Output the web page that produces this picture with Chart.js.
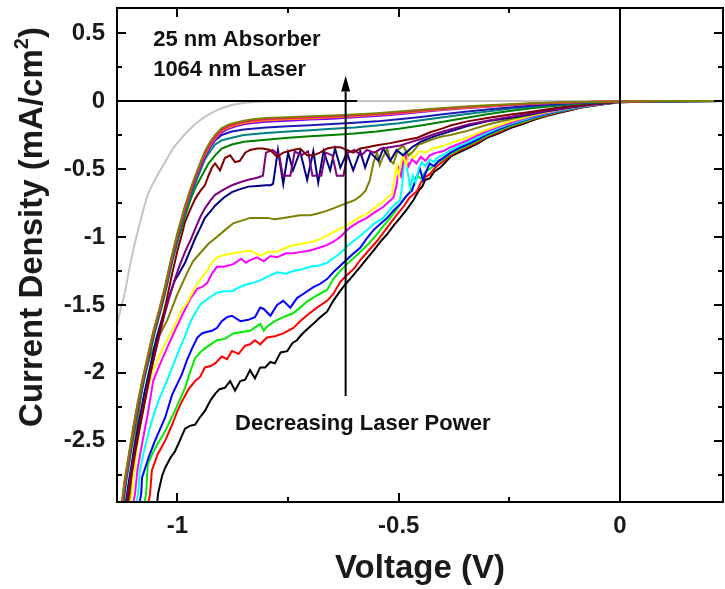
<!DOCTYPE html>
<html>
<head>
<meta charset="utf-8">
<title>25 nm Absorber - J-V curves</title>
<script src="https://cdn.jsdelivr.net/npm/chart.js@4.4.1/dist/chart.umd.min.js"></script>
<style>
  html, body { margin: 0; padding: 0; background: #fff; }
  #wrap { width: 725px; height: 589px; }
</style>
</head>
<body>
<div id="wrap"><canvas id="jv" width="725" height="589"></canvas></div>
<script>
// Axis ranges and tick labels
const voltRange = [-1.1367, 0.2328];
const currRange = [-2.95, 0.684];
const voltTicks = [-1, -0.5, 0];
const currTicks = [0.5, 0, -0.5, -1, -1.5, -2, -2.5];

// Curves: [voltage (V), current density (mA/cm2)]
// lowest curve = highest laser power
const blackCurve = [[-1.046,-2.96],[-1.044,-2.89],[-1.035,-2.76],[-1.028,-2.70],[-1.015,-2.62],[-1.006,-2.58],[-0.995,-2.50],[-0.983,-2.41],[-0.972,-2.39],[-0.96,-2.38],[-0.95,-2.33],[-0.938,-2.28],[-0.925,-2.20],[-0.915,-2.155],[-0.905,-2.12],[-0.893,-2.11],[-0.881,-2.06],[-0.87,-2.13],[-0.858,-2.06],[-0.847,-2.05],[-0.836,-1.98],[-0.825,-2.04],[-0.813,-1.96],[-0.802,-1.96],[-0.79,-1.92],[-0.78,-1.93],[-0.767,-1.85],[-0.752,-1.84],[-0.74,-1.78],[-0.73,-1.76],[-0.72,-1.72],[-0.707,-1.68],[-0.69,-1.63],[-0.677,-1.59],[-0.662,-1.55],[-0.648,-1.47],[-0.635,-1.41],[-0.621,-1.35],[-0.605,-1.29],[-0.587,-1.22],[-0.572,-1.16],[-0.557,-1.10],[-0.54,-1.03],[-0.526,-0.98],[-0.51,-0.91],[-0.497,-0.86],[-0.48,-0.79],[-0.467,-0.73],[-0.455,-0.66],[-0.447,-0.63],[-0.44,-0.58],[-0.43,-0.57],[-0.42,-0.52],[-0.406,-0.49],[-0.383,-0.41],[-0.365,-0.38],[-0.345,-0.35],[-0.32,-0.31],[-0.30,-0.27],[-0.275,-0.24],[-0.248,-0.20],[-0.22,-0.17],[-0.196,-0.14],[-0.17,-0.115],[-0.142,-0.09],[-0.115,-0.07],[-0.09,-0.05],[-0.06,-0.035],[-0.03,-0.02],[0,-0.01],[0.05,-0.005],[0.1,-0.002],[0.233,0]];
const redCurve = [[-1.066,-2.96],[-1.062,-2.89],[-1.058,-2.72],[-1.045,-2.60],[-1.028,-2.50],[-1.012,-2.38],[-1.0,-2.28],[-0.99,-2.21],[-0.975,-2.12],[-0.96,-2.06],[-0.949,-2.03],[-0.938,-1.96],[-0.925,-1.95],[-0.915,-1.93],[-0.9,-1.88],[-0.888,-1.90],[-0.877,-1.84],[-0.862,-1.86],[-0.847,-1.80],[-0.836,-1.79],[-0.825,-1.76],[-0.813,-1.79],[-0.798,-1.74],[-0.78,-1.73],[-0.761,-1.71],[-0.738,-1.67],[-0.723,-1.62],[-0.705,-1.57],[-0.685,-1.52],[-0.662,-1.47],[-0.648,-1.42],[-0.632,-1.33],[-0.617,-1.28],[-0.6,-1.23],[-0.587,-1.17],[-0.568,-1.10],[-0.549,-1.03],[-0.535,-0.97],[-0.519,-0.90],[-0.505,-0.84],[-0.49,-0.78],[-0.475,-0.71],[-0.458,-0.66],[-0.45,-0.60],[-0.44,-0.56],[-0.43,-0.54],[-0.42,-0.50],[-0.41,-0.47],[-0.383,-0.40],[-0.36,-0.36],[-0.345,-0.34],[-0.32,-0.30],[-0.30,-0.26],[-0.275,-0.23],[-0.248,-0.19],[-0.22,-0.16],[-0.196,-0.135],[-0.17,-0.11],[-0.142,-0.085],[-0.115,-0.065],[-0.09,-0.048],[-0.06,-0.033],[-0.03,-0.02],[0,-0.01],[0.05,-0.005],[0.1,-0.002],[0.233,0]];
const greenCurve = [[-1.075,-2.96],[-1.071,-2.89],[-1.067,-2.67],[-1.05,-2.55],[-1.028,-2.43],[-1.006,-2.28],[-0.995,-2.20],[-0.983,-2.11],[-0.97,-1.98],[-0.96,-1.89],[-0.949,-1.85],[-0.938,-1.82],[-0.925,-1.79],[-0.911,-1.76],[-0.893,-1.75],[-0.874,-1.71],[-0.855,-1.70],[-0.836,-1.69],[-0.822,-1.66],[-0.813,-1.64],[-0.805,-1.69],[-0.798,-1.66],[-0.78,-1.62],[-0.761,-1.59],[-0.738,-1.56],[-0.723,-1.52],[-0.705,-1.47],[-0.685,-1.43],[-0.662,-1.39],[-0.648,-1.31],[-0.632,-1.25],[-0.617,-1.20],[-0.6,-1.15],[-0.587,-1.11],[-0.568,-1.05],[-0.549,-0.98],[-0.535,-0.92],[-0.519,-0.86],[-0.505,-0.80],[-0.49,-0.73],[-0.478,-0.68],[-0.467,-0.63],[-0.458,-0.55],[-0.45,-0.57],[-0.44,-0.52],[-0.43,-0.50],[-0.415,-0.46],[-0.40,-0.43],[-0.383,-0.39],[-0.36,-0.35],[-0.345,-0.33],[-0.32,-0.29],[-0.30,-0.255],[-0.275,-0.22],[-0.248,-0.185],[-0.22,-0.155],[-0.196,-0.13],[-0.17,-0.105],[-0.142,-0.082],[-0.115,-0.063],[-0.09,-0.046],[-0.06,-0.032],[-0.03,-0.019],[0,-0.009],[0.05,-0.004],[0.1,-0.002],[0.233,0]];
const blueCurve = [[-1.086,-2.96],[-1.082,-2.89],[-1.08,-2.77],[-1.065,-2.62],[-1.051,-2.50],[-1.04,-2.42],[-1.028,-2.33],[-1.012,-2.16],[-0.99,-2.01],[-0.979,-1.91],[-0.967,-1.82],[-0.955,-1.74],[-0.945,-1.71],[-0.935,-1.70],[-0.922,-1.69],[-0.911,-1.67],[-0.9,-1.62],[-0.888,-1.59],[-0.877,-1.58],[-0.858,-1.62],[-0.84,-1.61],[-0.825,-1.59],[-0.813,-1.52],[-0.805,-1.53],[-0.79,-1.58],[-0.775,-1.50],[-0.761,-1.47],[-0.745,-1.52],[-0.73,-1.45],[-0.716,-1.42],[-0.693,-1.37],[-0.68,-1.35],[-0.662,-1.31],[-0.645,-1.25],[-0.625,-1.19],[-0.605,-1.13],[-0.587,-1.08],[-0.572,-1.01],[-0.557,-0.95],[-0.54,-0.90],[-0.526,-0.86],[-0.51,-0.80],[-0.497,-0.76],[-0.483,-0.70],[-0.47,-0.66],[-0.46,-0.56],[-0.452,-0.50],[-0.445,-0.58],[-0.438,-0.52],[-0.43,-0.46],[-0.42,-0.48],[-0.41,-0.44],[-0.40,-0.42],[-0.383,-0.38],[-0.36,-0.34],[-0.345,-0.32],[-0.32,-0.28],[-0.30,-0.245],[-0.275,-0.21],[-0.248,-0.175],[-0.22,-0.145],[-0.196,-0.122],[-0.17,-0.1],[-0.142,-0.078],[-0.115,-0.06],[-0.09,-0.044],[-0.06,-0.03],[-0.03,-0.018],[0,-0.008],[0.05,-0.004],[0.1,-0.002],[0.233,0]];
const cyanCurve = [[-1.093,-2.96],[-1.089,-2.89],[-1.085,-2.72],[-1.074,-2.55],[-1.062,-2.40],[-1.051,-2.28],[-1.04,-2.18],[-1.024,-2.06],[-1.006,-1.91],[-0.995,-1.82],[-0.983,-1.73],[-0.97,-1.62],[-0.96,-1.56],[-0.949,-1.50],[-0.938,-1.47],[-0.925,-1.44],[-0.911,-1.41],[-0.895,-1.40],[-0.877,-1.40],[-0.86,-1.37],[-0.845,-1.35],[-0.83,-1.34],[-0.813,-1.32],[-0.795,-1.29],[-0.775,-1.26],[-0.755,-1.27],[-0.738,-1.25],[-0.72,-1.24],[-0.70,-1.22],[-0.68,-1.21],[-0.662,-1.19],[-0.645,-1.15],[-0.632,-1.12],[-0.62,-1.08],[-0.61,-1.05],[-0.59,-1.00],[-0.572,-0.95],[-0.555,-0.90],[-0.535,-0.86],[-0.515,-0.78],[-0.497,-0.73],[-0.492,-0.62],[-0.487,-0.40],[-0.48,-0.52],[-0.474,-0.64],[-0.468,-0.55],[-0.462,-0.60],[-0.455,-0.50],[-0.448,-0.45],[-0.44,-0.48],[-0.43,-0.43],[-0.42,-0.45],[-0.41,-0.41],[-0.40,-0.40],[-0.383,-0.36],[-0.36,-0.325],[-0.345,-0.305],[-0.32,-0.265],[-0.30,-0.235],[-0.275,-0.20],[-0.248,-0.168],[-0.22,-0.14],[-0.196,-0.117],[-0.17,-0.095],[-0.142,-0.074],[-0.115,-0.057],[-0.09,-0.042],[-0.06,-0.029],[-0.03,-0.017],[0,-0.008],[0.05,-0.004],[0.1,-0.002],[0.233,0]];
const magentaCurve = [[-1.100,-2.96],[-1.096,-2.89],[-1.09,-2.70],[-1.08,-2.52],[-1.067,-2.30],[-1.055,-2.06],[-1.04,-1.94],[-1.024,-1.82],[-1.006,-1.69],[-0.987,-1.56],[-0.97,-1.45],[-0.955,-1.38],[-0.945,-1.37],[-0.933,-1.34],[-0.922,-1.27],[-0.911,-1.22],[-0.895,-1.22],[-0.874,-1.20],[-0.856,-1.16],[-0.845,-1.19],[-0.836,-1.17],[-0.82,-1.15],[-0.805,-1.18],[-0.79,-1.14],[-0.775,-1.15],[-0.755,-1.12],[-0.738,-1.12],[-0.72,-1.11],[-0.70,-1.10],[-0.68,-1.08],[-0.662,-1.06],[-0.645,-1.03],[-0.632,-1.00],[-0.62,-0.96],[-0.61,-0.93],[-0.59,-0.89],[-0.572,-0.86],[-0.555,-0.82],[-0.535,-0.78],[-0.512,-0.71],[-0.505,-0.62],[-0.50,-0.50],[-0.495,-0.55],[-0.49,-0.45],[-0.484,-0.40],[-0.478,-0.48],[-0.47,-0.43],[-0.46,-0.46],[-0.45,-0.41],[-0.44,-0.44],[-0.43,-0.40],[-0.415,-0.38],[-0.40,-0.37],[-0.383,-0.34],[-0.36,-0.31],[-0.345,-0.29],[-0.32,-0.25],[-0.30,-0.222],[-0.275,-0.19],[-0.248,-0.16],[-0.22,-0.132],[-0.196,-0.11],[-0.17,-0.09],[-0.142,-0.07],[-0.115,-0.054],[-0.09,-0.04],[-0.06,-0.027],[-0.03,-0.016],[0,-0.007],[0.05,-0.003],[0.1,-0.001],[0.233,0]];
const yellowCurve = [[-1.107,-2.96],[-1.103,-2.89],[-1.095,-2.65],[-1.085,-2.40],[-1.07,-2.15],[-1.055,-1.98],[-1.04,-1.87],[-1.024,-1.76],[-1.006,-1.65],[-0.99,-1.53],[-0.979,-1.49],[-0.965,-1.40],[-0.95,-1.32],[-0.933,-1.25],[-0.922,-1.19],[-0.911,-1.15],[-0.89,-1.13],[-0.874,-1.12],[-0.855,-1.11],[-0.836,-1.10],[-0.813,-1.14],[-0.795,-1.11],[-0.775,-1.11],[-0.755,-1.08],[-0.738,-1.06],[-0.72,-1.05],[-0.70,-1.04],[-0.68,-1.02],[-0.662,-0.99],[-0.645,-0.96],[-0.632,-0.94],[-0.61,-0.90],[-0.59,-0.86],[-0.572,-0.83],[-0.555,-0.79],[-0.535,-0.74],[-0.525,-0.71],[-0.515,-0.68],[-0.51,-0.58],[-0.505,-0.48],[-0.50,-0.55],[-0.495,-0.45],[-0.49,-0.40],[-0.483,-0.47],[-0.475,-0.38],[-0.465,-0.42],[-0.455,-0.37],[-0.44,-0.38],[-0.425,-0.35],[-0.41,-0.34],[-0.40,-0.33],[-0.383,-0.31],[-0.36,-0.285],[-0.345,-0.27],[-0.32,-0.235],[-0.30,-0.21],[-0.275,-0.18],[-0.248,-0.15],[-0.22,-0.125],[-0.196,-0.104],[-0.17,-0.085],[-0.142,-0.066],[-0.115,-0.051],[-0.09,-0.038],[-0.06,-0.026],[-0.03,-0.015],[0,-0.007],[0.05,-0.003],[0.1,-0.001],[0.233,0]];
const darkYellowCurve = [[-1.111,-2.96],[-1.107,-2.89],[-1.1,-2.60],[-1.09,-2.35],[-1.078,-2.06],[-1.062,-1.88],[-1.045,-1.75],[-1.024,-1.62],[-1.0,-1.42],[-0.979,-1.27],[-0.965,-1.18],[-0.949,-1.12],[-0.93,-1.05],[-0.911,-1.00],[-0.893,-0.95],[-0.874,-0.90],[-0.855,-0.88],[-0.836,-0.86],[-0.815,-0.86],[-0.798,-0.86],[-0.78,-0.87],[-0.761,-0.86],[-0.74,-0.85],[-0.723,-0.84],[-0.70,-0.84],[-0.685,-0.83],[-0.665,-0.81],[-0.648,-0.79],[-0.632,-0.77],[-0.617,-0.75],[-0.60,-0.73],[-0.587,-0.70],[-0.575,-0.66],[-0.565,-0.58],[-0.557,-0.45],[-0.549,-0.38],[-0.543,-0.47],[-0.537,-0.42],[-0.526,-0.35],[-0.519,-0.44],[-0.512,-0.46],[-0.502,-0.36],[-0.49,-0.33],[-0.478,-0.40],[-0.467,-0.37],[-0.455,-0.32],[-0.445,-0.31],[-0.43,-0.29],[-0.413,-0.27],[-0.40,-0.26],[-0.383,-0.25],[-0.345,-0.22],[-0.30,-0.175],[-0.275,-0.155],[-0.248,-0.135],[-0.22,-0.115],[-0.196,-0.098],[-0.17,-0.08],[-0.142,-0.063],[-0.115,-0.048],[-0.09,-0.035],[-0.06,-0.024],[-0.03,-0.014],[0,-0.006],[0.05,-0.003],[0.1,-0.001],[0.233,0]];
const navyCurve = [[-1.117,-2.96],[-1.11,-2.80],[-1.10,-2.60],[-1.088,-2.38],[-1.075,-2.15],[-1.062,-1.96],[-1.048,-1.75],[-1.033,-1.58],[-1.02,-1.45],[-1.006,-1.32],[-0.995,-1.26],[-0.983,-1.19],[-0.97,-1.09],[-0.96,-1.01],[-0.948,-0.93],[-0.938,-0.86],[-0.925,-0.81],[-0.915,-0.77],[-0.895,-0.71],[-0.877,-0.67],[-0.86,-0.65],[-0.84,-0.63],[-0.82,-0.625],[-0.80,-0.62],[-0.79,-0.62],[-0.784,-0.61],[-0.773,-0.36],[-0.761,-0.61],[-0.75,-0.38],[-0.739,-0.51],[-0.723,-0.37],[-0.707,-0.58],[-0.693,-0.37],[-0.682,-0.60],[-0.67,-0.37],[-0.655,-0.51],[-0.644,-0.35],[-0.632,-0.49],[-0.617,-0.38],[-0.603,-0.51],[-0.587,-0.37],[-0.576,-0.49],[-0.564,-0.38],[-0.546,-0.44],[-0.535,-0.35],[-0.519,-0.44],[-0.505,-0.36],[-0.49,-0.40],[-0.47,-0.34],[-0.45,-0.30],[-0.42,-0.26],[-0.40,-0.24],[-0.345,-0.185],[-0.30,-0.15],[-0.27,-0.135],[-0.22,-0.108],[-0.17,-0.078],[-0.115,-0.05],[-0.06,-0.025],[0,-0.006],[0.1,-0.002],[0.233,0]];
const purpleCurve = [[-1.115,-2.96],[-1.108,-2.80],[-1.098,-2.60],[-1.085,-2.38],[-1.072,-2.17],[-1.06,-1.98],[-1.045,-1.78],[-1.03,-1.58],[-1.018,-1.44],[-1.006,-1.31],[-0.995,-1.21],[-0.983,-1.11],[-0.97,-1.02],[-0.96,-0.94],[-0.948,-0.85],[-0.938,-0.79],[-0.925,-0.73],[-0.915,-0.69],[-0.895,-0.65],[-0.877,-0.62],[-0.86,-0.60],[-0.84,-0.58],[-0.82,-0.565],[-0.807,-0.55],[-0.80,-0.38],[-0.785,-0.36],[-0.77,-0.40],[-0.762,-0.55],[-0.745,-0.55],[-0.735,-0.37],[-0.72,-0.40],[-0.705,-0.37],[-0.695,-0.55],[-0.675,-0.55],[-0.665,-0.38],[-0.65,-0.40],[-0.64,-0.55],[-0.625,-0.55],[-0.615,-0.38],[-0.60,-0.36],[-0.585,-0.40],[-0.572,-0.36],[-0.555,-0.38],[-0.54,-0.35],[-0.52,-0.34],[-0.50,-0.33],[-0.48,-0.31],[-0.45,-0.28],[-0.42,-0.245],[-0.40,-0.225],[-0.345,-0.175],[-0.30,-0.145],[-0.27,-0.128],[-0.22,-0.102],[-0.17,-0.074],[-0.115,-0.047],[-0.06,-0.024],[0,-0.006],[0.1,-0.002],[0.233,0]];
const wineCurve = [[-1.113,-2.96],[-1.105,-2.78],[-1.095,-2.58],[-1.085,-2.40],[-1.073,-2.20],[-1.062,-2.02],[-1.05,-1.84],[-1.038,-1.66],[-1.025,-1.47],[-1.012,-1.27],[-1.0,-1.10],[-0.99,-0.98],[-0.983,-0.89],[-0.97,-0.79],[-0.96,-0.72],[-0.948,-0.66],[-0.938,-0.62],[-0.93,-0.55],[-0.922,-0.49],[-0.915,-0.46],[-0.904,-0.51],[-0.893,-0.42],[-0.881,-0.40],[-0.87,-0.45],[-0.859,-0.44],[-0.847,-0.38],[-0.836,-0.36],[-0.82,-0.35],[-0.807,-0.35],[-0.791,-0.36],[-0.775,-0.41],[-0.761,-0.38],[-0.739,-0.36],[-0.723,-0.35],[-0.707,-0.40],[-0.693,-0.40],[-0.678,-0.38],[-0.662,-0.35],[-0.648,-0.34],[-0.632,-0.34],[-0.617,-0.36],[-0.603,-0.38],[-0.587,-0.35],[-0.571,-0.34],[-0.549,-0.325],[-0.519,-0.31],[-0.49,-0.29],[-0.458,-0.27],[-0.429,-0.23],[-0.399,-0.2],[-0.383,-0.18],[-0.345,-0.15],[-0.30,-0.125],[-0.27,-0.11],[-0.248,-0.1],[-0.22,-0.088],[-0.196,-0.077],[-0.17,-0.064],[-0.142,-0.05],[-0.115,-0.039],[-0.09,-0.029],[-0.06,-0.019],[-0.03,-0.011],[0,-0.005],[0.1,-0.002],[0.233,0]];
const greenDarkCurve = [[-1.122,-2.96],[-1.116,-2.80],[-1.106,-2.60],[-1.096,-2.40],[-1.086,-2.22],[-1.074,-2.03],[-1.063,-1.87],[-1.051,-1.70],[-1.036,-1.52],[-1.024,-1.36],[-1.011,-1.17],[-0.996,-0.99],[-0.98,-0.82],[-0.97,-0.72],[-0.96,-0.64],[-0.945,-0.55],[-0.93,-0.46],[-0.915,-0.40],[-0.9,-0.35],[-0.877,-0.32],[-0.85,-0.30],[-0.80,-0.285],[-0.75,-0.27],[-0.70,-0.26],[-0.65,-0.25],[-0.60,-0.24],[-0.55,-0.225],[-0.50,-0.205],[-0.45,-0.18],[-0.40,-0.153],[-0.35,-0.125],[-0.30,-0.098],[-0.25,-0.074],[-0.20,-0.054],[-0.15,-0.037],[-0.10,-0.023],[-0.05,-0.012],[0,-0.006],[0.1,-0.002],[0.233,0]];
const tealCurve = [[-1.123,-2.96],[-1.117,-2.80],[-1.107,-2.60],[-1.097,-2.40],[-1.087,-2.22],[-1.075,-2.03],[-1.064,-1.87],[-1.052,-1.70],[-1.037,-1.52],[-1.025,-1.36],[-1.012,-1.17],[-0.997,-0.98],[-0.981,-0.80],[-0.968,-0.68],[-0.958,-0.59],[-0.948,-0.51],[-0.938,-0.43],[-0.926,-0.37],[-0.915,-0.32],[-0.9,-0.29],[-0.877,-0.27],[-0.85,-0.25],[-0.80,-0.235],[-0.75,-0.225],[-0.70,-0.215],[-0.65,-0.205],[-0.60,-0.195],[-0.55,-0.18],[-0.50,-0.163],[-0.45,-0.142],[-0.40,-0.12],[-0.35,-0.098],[-0.30,-0.077],[-0.25,-0.058],[-0.20,-0.042],[-0.15,-0.029],[-0.10,-0.018],[-0.05,-0.01],[0,-0.005],[0.1,-0.002],[0.233,0]];
const royalCurve = [[-1.124,-2.96],[-1.118,-2.80],[-1.108,-2.60],[-1.098,-2.40],[-1.088,-2.22],[-1.076,-2.03],[-1.065,-1.87],[-1.053,-1.70],[-1.038,-1.52],[-1.026,-1.36],[-1.013,-1.17],[-0.998,-0.97],[-0.982,-0.78],[-0.969,-0.66],[-0.96,-0.58],[-0.948,-0.48],[-0.938,-0.41],[-0.926,-0.34],[-0.915,-0.29],[-0.9,-0.25],[-0.877,-0.225],[-0.85,-0.21],[-0.80,-0.195],[-0.75,-0.185],[-0.70,-0.178],[-0.65,-0.17],[-0.60,-0.16],[-0.55,-0.15],[-0.50,-0.135],[-0.45,-0.117],[-0.40,-0.098],[-0.35,-0.08],[-0.30,-0.063],[-0.25,-0.048],[-0.20,-0.035],[-0.15,-0.024],[-0.10,-0.015],[-0.05,-0.008],[0,-0.004],[0.1,-0.001],[0.233,0]];
const orangeCurve = [[-1.125,-2.96],[-1.119,-2.80],[-1.109,-2.60],[-1.099,-2.40],[-1.089,-2.22],[-1.077,-2.03],[-1.066,-1.87],[-1.054,-1.70],[-1.039,-1.52],[-1.027,-1.36],[-1.014,-1.17],[-0.999,-0.97],[-0.982,-0.78],[-0.969,-0.65],[-0.959,-0.56],[-0.947,-0.46],[-0.937,-0.39],[-0.925,-0.32],[-0.914,-0.27],[-0.9,-0.22],[-0.885,-0.195],[-0.87,-0.178],[-0.85,-0.162],[-0.83,-0.152],[-0.80,-0.142],[-0.75,-0.135],[-0.70,-0.128],[-0.65,-0.12],[-0.60,-0.112],[-0.55,-0.102],[-0.50,-0.09],[-0.45,-0.076],[-0.40,-0.062],[-0.35,-0.05],[-0.30,-0.04],[-0.25,-0.03],[-0.20,-0.021],[-0.15,-0.014],[-0.10,-0.009],[-0.05,-0.005],[0,-0.003],[0.1,-0.001],[0.233,0]];
const violetCurve = [[-1.125,-2.96],[-1.119,-2.80],[-1.109,-2.60],[-1.099,-2.40],[-1.089,-2.22],[-1.077,-2.03],[-1.066,-1.87],[-1.054,-1.70],[-1.039,-1.52],[-1.027,-1.36],[-1.014,-1.17],[-0.999,-0.97],[-0.982,-0.78],[-0.969,-0.65],[-0.959,-0.57],[-0.947,-0.47],[-0.937,-0.40],[-0.925,-0.33],[-0.914,-0.28],[-0.9,-0.23],[-0.885,-0.205],[-0.87,-0.188],[-0.85,-0.172],[-0.83,-0.162],[-0.80,-0.152],[-0.75,-0.145],[-0.70,-0.137],[-0.65,-0.13],[-0.60,-0.12],[-0.55,-0.11],[-0.50,-0.097],[-0.45,-0.082],[-0.40,-0.067],[-0.35,-0.054],[-0.30,-0.043],[-0.25,-0.032],[-0.20,-0.023],[-0.15,-0.015],[-0.10,-0.01],[-0.05,-0.006],[0,-0.003],[0.1,-0.001],[0.233,0]];
const pinkCurve = [[-1.125,-2.96],[-1.119,-2.80],[-1.109,-2.60],[-1.099,-2.40],[-1.089,-2.22],[-1.077,-2.03],[-1.066,-1.87],[-1.054,-1.70],[-1.039,-1.52],[-1.027,-1.36],[-1.014,-1.17],[-0.999,-0.97],[-0.982,-0.78],[-0.969,-0.65],[-0.959,-0.56],[-0.947,-0.46],[-0.937,-0.38],[-0.925,-0.31],[-0.914,-0.26],[-0.9,-0.21],[-0.885,-0.185],[-0.87,-0.168],[-0.85,-0.152],[-0.83,-0.142],[-0.80,-0.132],[-0.75,-0.126],[-0.70,-0.12],[-0.65,-0.113],[-0.60,-0.105],[-0.55,-0.096],[-0.50,-0.084],[-0.45,-0.07],[-0.40,-0.057],[-0.35,-0.045],[-0.30,-0.036],[-0.25,-0.027],[-0.20,-0.019],[-0.15,-0.013],[-0.10,-0.009],[-0.05,-0.005],[0,-0.003],[0.1,-0.001],[0.233,0]];
const oliveTopCurve = [[-1.126,-2.96],[-1.12,-2.80],[-1.11,-2.60],[-1.10,-2.40],[-1.09,-2.22],[-1.078,-2.03],[-1.067,-1.87],[-1.055,-1.70],[-1.04,-1.52],[-1.028,-1.36],[-1.015,-1.17],[-1.0,-0.97],[-0.983,-0.77],[-0.97,-0.64],[-0.96,-0.55],[-0.948,-0.45],[-0.938,-0.37],[-0.926,-0.30],[-0.915,-0.25],[-0.9,-0.20],[-0.885,-0.175],[-0.87,-0.16],[-0.85,-0.145],[-0.83,-0.135],[-0.80,-0.125],[-0.75,-0.12],[-0.70,-0.113],[-0.65,-0.107],[-0.60,-0.10],[-0.55,-0.09],[-0.50,-0.078],[-0.45,-0.065],[-0.40,-0.052],[-0.35,-0.04],[-0.30,-0.032],[-0.25,-0.024],[-0.20,-0.017],[-0.15,-0.012],[-0.10,-0.008],[-0.05,-0.005],[0,-0.003],[0.1,-0.001],[0.233,0]];
const grayCurve = [[-1.14,-1.70],[-1.13,-1.55],[-1.119,-1.41],[-1.108,-1.22],[-1.096,-1.04],[-1.082,-0.86],[-1.067,-0.69],[-1.046,-0.55],[-1.028,-0.45],[-1.01,-0.35],[-0.99,-0.27],[-0.97,-0.20],[-0.954,-0.155],[-0.935,-0.11],[-0.915,-0.075],[-0.895,-0.048],[-0.877,-0.03],[-0.85,-0.015],[-0.825,-0.007],[-0.80,-0.003],[-0.70,0],[0.233,0]];

// Reference lines and the arrow
const zeroLine = [[-1.14,0],[-0.594,0]];
const originLine = [[0,-2.96],[0,0.69]];
const arrowShaft = [[-0.62,-2.17],[-0.62,0.07]];
const arrowTip = 0.185;

const curves = [
  ['oliveTop', oliveTopCurve, '#808000'],
  ['pink', pinkCurve, '#ff0080'],
  ['orange', orangeCurve, '#ff8000'],
  ['violet', violetCurve, '#8000ff'],
  ['royal', royalCurve, '#1c1cb4'],
  ['darkCyan', tealCurve, '#008080'],
  ['olive', greenDarkCurve, '#008000'],
  ['wine', wineCurve, '#800000'],
  ['purple', purpleCurve, '#800080'],
  ['navy', navyCurve, '#000080'],
  ['darkYellow', darkYellowCurve, '#808000'],
  ['yellow', yellowCurve, '#ffff00'],
  ['magenta', magentaCurve, '#ff00ff'],
  ['cyan', cyanCurve, '#00ffff'],
  ['blue', blueCurve, '#0000ff'],
  ['green', greenCurve, '#00ee00'],
  ['red', redCurve, '#ff0000'],
  ['black', blackCurve, '#000000'],
  ['gray', grayCurve, '#c4c4c4']
];

const FONT = "Arial, 'Liberation Sans', sans-serif";

function toPoints(arr) {
  return arr.map(p => ({ x: p[0], y: p[1] }));
}

function lineSet(label, arr, color, width) {
  return {
    label: label,
    data: toPoints(arr),
    borderColor: color,
    backgroundColor: color,
    borderWidth: width,
    pointRadius: 0,
    showLine: true,
    tension: 0,
    fill: false
  };
}

const datasets = [
  lineSet('zero', zeroLine, '#000000', 2),
  lineSet('origin', originLine, '#000000', 2),
  lineSet('arrow', arrowShaft, '#000000', 2)
].concat(curves.map(c => lineSet(c[0], c[1], c[2], 2)));

// the dark-current curve is smooth in the original
const grayDs = datasets.find(d => d.label === 'gray');
grayDs.cubicInterpolationMode = 'monotone';

// frame, inward ticks, arrow head, notes and y title
const decorPlugin = {
  id: 'decor',
  afterDatasetsDraw(chart) {
    const { ctx, chartArea: a, scales } = chart;
    const xs = scales.x, ys = scales.y;
    ctx.save();
    ctx.strokeStyle = '#000';
    ctx.lineWidth = 2;
    ctx.strokeRect(a.left, a.top, a.right - a.left, a.bottom - a.top);

    // ticks every 0.25, longer on the labelled ones
    ctx.beginPath();
    for (let v = -1.0; v <= voltRange[1]; v += 0.25) {
      if (v < voltRange[0]) continue;
      const px = Math.round(xs.getPixelForValue(v));
      const len = Math.abs(v * 2 - Math.round(v * 2)) < 1e-6 ? 9 : 5;
      ctx.moveTo(px, a.bottom); ctx.lineTo(px, a.bottom - len);
      ctx.moveTo(px, a.top); ctx.lineTo(px, a.top + len);
    }
    for (let v = 0.5; v >= currRange[0]; v -= 0.25) {
      const py = Math.round(ys.getPixelForValue(v));
      const len = Math.abs(v * 2 - Math.round(v * 2)) < 1e-6 ? 9 : 5;
      ctx.moveTo(a.left, py); ctx.lineTo(a.left + len, py);
      ctx.moveTo(a.right, py); ctx.lineTo(a.right - len, py);
    }
    ctx.stroke();

    // arrow head
    const ax = xs.getPixelForValue(arrowShaft[1][0]);
    const baseY = ys.getPixelForValue(arrowShaft[1][1]);
    const tipY = ys.getPixelForValue(arrowTip);
    ctx.fillStyle = '#000';
    ctx.beginPath();
    ctx.moveTo(ax, tipY);
    ctx.lineTo(ax - 4.5, baseY);
    ctx.lineTo(ax + 4.5, baseY);
    ctx.closePath();
    ctx.fill();

    // notes
    ctx.fillStyle = '#111';
    ctx.textBaseline = 'middle';
    ctx.textAlign = 'left';
    ctx.font = 'bold 22px ' + FONT;
    ctx.fillText('25 nm Absorber', xs.getPixelForValue(-1.055), ys.getPixelForValue(0.45));
    ctx.fillText('1064 nm Laser', xs.getPixelForValue(-1.055), ys.getPixelForValue(0.229));
    ctx.fillText('Decreasing Laser Power', xs.getPixelForValue(-0.87), ys.getPixelForValue(-2.376));

    // y axis title with superscript
    ctx.translate(33, 227);
    ctx.rotate(-Math.PI / 2);
    ctx.fillStyle = '#1a1a1a';
    const main = 'Current Density (mA/cm';
    const big = 'bold 33px ' + FONT, small = 'bold 20px ' + FONT;
    ctx.font = big;
    const w1 = ctx.measureText(main).width;
    const w3 = ctx.measureText(')').width;
    ctx.font = small;
    const w2 = ctx.measureText('2').width;
    let start = -(w1 + w2 + w3) / 2;
    ctx.font = big;
    ctx.fillText(main, start, 0);
    ctx.font = small;
    ctx.fillText('2', start + w1, -11);
    ctx.font = big;
    ctx.fillText(')', start + w1 + w2, 0);
    ctx.restore();
  }
};

new Chart(document.getElementById('jv'), {
  type: 'scatter',
  data: { datasets: datasets },
  options: {
    responsive: false,
    animation: false,
    layout: { padding: { top: 8, right: 2, left: 0, bottom: 0 } },
    plugins: {
      legend: { display: false },
      tooltip: { enabled: false }
    },
    scales: {
      x: {
        type: 'linear',
        min: voltRange[0],
        max: voltRange[1],
        grid: { display: false, drawTicks: false },
        border: { display: false },
        afterBuildTicks: s => { s.ticks = voltTicks.map(v => ({ value: v })); },
        afterFit: s => { s.height = 87; s.paddingLeft = 0; s.paddingRight = 0; },
        ticks: {
          autoSkip: false,
          maxRotation: 0,
          padding: 10,
          color: '#1a1a1a',
          font: { family: FONT, size: 24, weight: 'bold' },
          callback: v => String(v)
        },
        title: {
          display: true,
          text: 'Voltage (V)',
          color: '#1a1a1a',
          padding: { top: 0, bottom: 0 },
          font: { family: FONT, size: 33, weight: 'bold' }
        }
      },
      y: {
        type: 'linear',
        min: currRange[0],
        max: currRange[1],
        grid: { display: false, drawTicks: false },
        border: { display: false },
        afterBuildTicks: s => { s.ticks = currTicks.map(v => ({ value: v })); },
        afterFit: s => { s.width = 117; s.paddingTop = 0; s.paddingBottom = 0; },
        ticks: {
          autoSkip: false,
          padding: 12,
          color: '#1a1a1a',
          font: { family: FONT, size: 24, weight: 'bold' },
          callback: v => String(v)
        }
      }
    }
  },
  plugins: [decorPlugin]
});
</script>
</body>
</html>
